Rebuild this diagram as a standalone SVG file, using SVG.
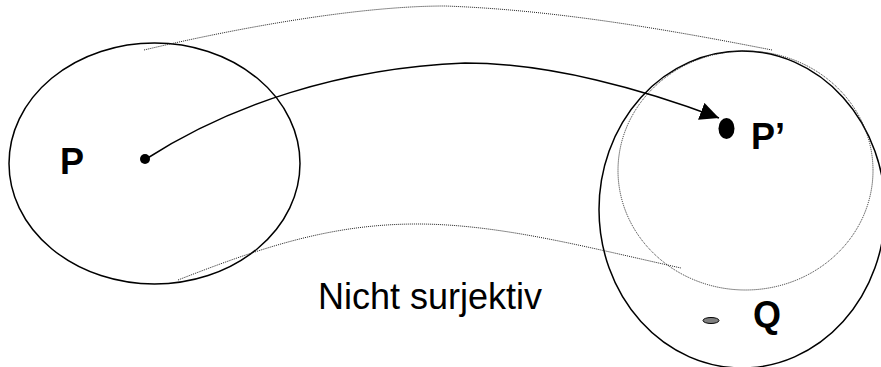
<svg xmlns="http://www.w3.org/2000/svg" width="881" height="367" viewBox="0 0 881 367">
<style>
.set{fill:none;stroke:#000;stroke-width:1.5}
.dot{fill:none;stroke:#222;stroke-width:1;stroke-dasharray:1 1}
.lbl{font-family:"Liberation Sans",Arial,sans-serif;font-size:36px;fill:#000}
.b{font-weight:bold}
</style>
<defs>
<marker id="ah" markerUnits="userSpaceOnUse" markerWidth="19" markerHeight="18" refX="19" refY="9" orient="auto" viewBox="0 0 19 18">
<path d="M0,0 L19,9 L0,18 z" fill="#000"/>
</marker>
</defs>
<rect width="881" height="367" fill="#fff"/>
<g id="setP">
<ellipse class="set" cx="154.5" cy="163.5" rx="145.5" ry="120.5"/>
</g>
<g id="setImage">
<ellipse class="set" cx="742" cy="209.5" rx="143" ry="158.5"/>
</g>
<g id="imageOfP">
<ellipse class="dot" cx="745.5" cy="170.5" rx="127.5" ry="119.5"/>
</g>
<g id="connectors">
<path class="dot" d="M144,50 C220,32 350,6 445,6 C560,10 680,32 772,50"/>
<path class="dot" d="M178,280 C260,248 330,224 417,224 C500,224 590,248 681,268"/>
<path d="M146,159 C230,105 340,68 465,63 C550,63 645,90 719,118" fill="none" stroke="#000" stroke-width="1.5" marker-end="url(#ah)"/>
</g>
<g id="nodeP">
<circle cx="145" cy="159" r="5" fill="#000"/>
<text class="lbl b" x="60" y="174">P</text>
</g>
<g id="nodePprime">
<ellipse cx="726.5" cy="128.5" rx="8" ry="10.5" fill="#000"/>
<text class="lbl b" x="751" y="149">P’</text>
</g>
<g id="nodeQ">
<ellipse cx="711" cy="320.5" rx="8" ry="3" fill="#808080" stroke="#000" stroke-width="1"/>
<text class="lbl b" x="753" y="327">Q</text>
</g>
<text class="lbl" x="318" y="309">Nicht surjektiv</text>
</svg>
